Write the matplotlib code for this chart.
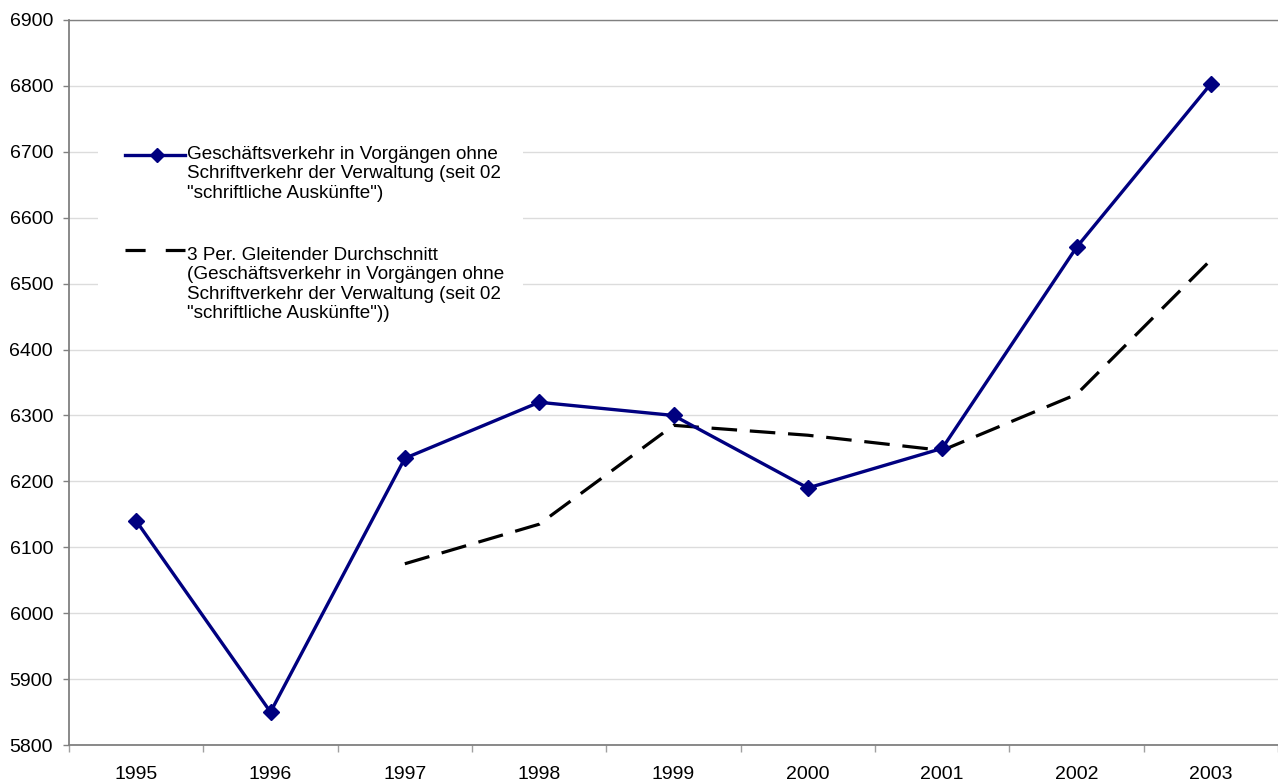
import matplotlib
matplotlib.use("Agg")
import matplotlib.pyplot as plt
from matplotlib.patches import Rectangle
import numpy as np

years = ["1995", "1996", "1997", "1998", "1999", "2000", "2001", "2002", "2003"]
vorgaenge = [6140, 5850, 6235, 6320, 6300, 6190, 6250, 6555, 6803]
# 3-period moving average (starts at 1997)
gleitend = [np.nan, np.nan, 6075, 6135, 6285, 6270, 6247, 6332, 6536]

label1 = ('Geschäftsverkehr in Vorgängen ohne\nSchriftverkehr der Verwaltung (seit 02\n'
          '"schriftliche Auskünfte")')
label2 = ('3 Per. Gleitender Durchschnitt\n(Geschäftsverkehr in Vorgängen ohne\n'
          'Schriftverkehr der Verwaltung (seit 02\n"schriftliche Auskünfte"))')

plt.rcParams['font.family'] = ['Liberation Sans', 'DejaVu Sans']

fig = plt.figure(figsize=(12.78, 7.83), dpi=100)
ax = fig.add_axes([0.054, 0.0485, 0.946, 0.926])

x = np.arange(len(years))
ax.plot(x, vorgaenge, color='#000080', lw=2.4, marker='D', ms=8.5, zorder=3)
ax.plot(x, gleitend, color='black', lw=2.3, dashes=(8, 4), zorder=2)

ax.set_xlim(-0.5, len(years) - 0.5)
ax.set_ylim(5800, 6900)
ax.set_yticks(np.arange(5800, 6901, 100))
ax.set_xticks(x)
ax.set_xticklabels(years)
ax.set_xticks(np.arange(-0.5, len(years)), minor=True)

ax.grid(axis='y', color='#dcdcdc', lw=1)
ax.set_axisbelow(True)
ax.spines['right'].set_visible(False)
for s in ['left', 'bottom', 'top']:
    ax.spines[s].set_color('#808080')
    ax.spines[s].set_linewidth(1.3)
ax.spines['top'].set_linewidth(1.0)

ax.tick_params(axis='y', labelsize=14, length=4.5, width=1, color='#808080', pad=7)
ax.tick_params(axis='x', which='major', labelsize=14, length=0, pad=15)
ax.tick_params(axis='x', which='minor', length=5, width=1, color='#a0a0a0')

# legend, drawn by hand so the handle sits at the first text line
ax.add_patch(Rectangle((0.024, 0.5655), 0.3515, 0.2965, transform=ax.transAxes,
                       facecolor='white', edgecolor='none', zorder=1.5))
ax.plot([0.0463, 0.0959], [0.814, 0.814], transform=ax.transAxes, color='#000080',
        lw=2.4, clip_on=False, zorder=4)
ax.plot([0.0728], [0.814], transform=ax.transAxes, color='#000080', marker='D', ms=7.5,
        clip_on=False, zorder=4)
ax.text(0.0975, 0.826, label1, transform=ax.transAxes, fontsize=13.6, va='top',
        linespacing=1.18, zorder=4)
ax.plot([0.0463, 0.0959], [0.683, 0.683], transform=ax.transAxes, color='black',
        lw=2.3, dashes=(6.3, 6.3), clip_on=False, zorder=4)
ax.text(0.0975, 0.687, label2, transform=ax.transAxes, fontsize=13.6, va='top',
        linespacing=1.18, zorder=4)

fig.savefig('out.png', dpi=100)
